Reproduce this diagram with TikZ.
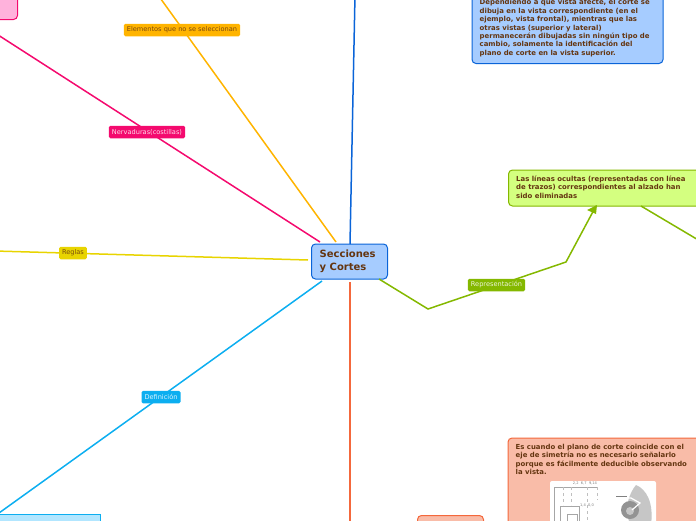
\documentclass[tikz,border=0pt]{standalone}
\usepackage{fontspec}
\setmainfont{DejaVu Sans}
\definecolor{txt}{HTML}{643510}
\definecolor{cgreen}{HTML}{84B800}
\definecolor{cblue}{HTML}{0A64D8}
\definecolor{cred}{HTML}{F4683C}
\definecolor{ccyan}{HTML}{0CAEF0}
\definecolor{cyel}{HTML}{E8D400}
\definecolor{cpink}{HTML}{F40A6E}
\definecolor{corg}{HTML}{FFB400}
\definecolor{fblue}{HTML}{A6CCFF}
\definecolor{fgreen}{HTML}{D4FF80}
\definecolor{fred}{HTML}{F9BCA8}
\definecolor{fcyan}{HTML}{B2E6FF}
\definecolor{fpink}{HTML}{FFB2DC}
\tikzset{
 x=1pt,y=-1pt,
 line/.style={line width=1.5pt},
 tag/.style={font=\fontsize{6.6}{8}\selectfont,rounded corners=1.5pt,inner xsep=3pt,inner ysep=0pt,minimum height=12.5pt,anchor=center},
 topic/.style={rounded corners=4pt,line width=1pt,anchor=north west},
 body/.style={anchor=north west,align=left,inner sep=0pt,font=\fontsize{6.92}{8.45}\selectfont\bfseries,text=txt},
}
\begin{document}
\begin{tikzpicture}
\useasboundingbox (0,0) rectangle (696,520);
\clip (0,0) rectangle (696,520);
\coordinate (offT) at (355,-5);
\coordinate (offO) at (158,-5);
\coordinate (offP) at (-5,33);
\coordinate (offY) at (-5,251);
\coordinate (offR) at (350,525);
\coordinate (bendA) at (428,309);
\coordinate (bendB) at (566,262);
\coordinate (offG) at (700,241);
\coordinate (arrowEnd) at (596,206);

\node[draw=cblue,fill=fblue,topic,minimum width=76pt,minimum height=35pt] (main) at (311,243.5) {};
\node[anchor=west,align=left,inner sep=0pt,font=\fontsize{10}{13}\selectfont\bfseries,text=txt] (mainlbl) at (319.5,261.5) {Secciones\\y Cortes};

\node[draw=cgreen,fill=fgreen,topic,minimum width=195pt,minimum height=36pt] (lin) at (508,169.5) {};
\node[body] (linl) at (516,175.5) {Las líneas ocultas (representadas con línea\\de trazos) correspondientes al alzado han\\sido eliminadas};

\node[draw=cblue,fill=fblue,topic,minimum width=191pt,minimum height=70pt] (dep) at (471.5,-7) {};
\node[body] (depl) at (479.5,-1) {Dependiendo a qué vista afecte, el corte se\\dibuja en la vista correspondiente (en el\\ejemplo, vista frontal), mientras que las\\otras vistas (superior y lateral)\\permanecerán dibujadas sin ningún tipo de\\cambio, solamente la identificación del\\plano de corte en la vista superior.};

\node[draw=cred,fill=fred,topic,minimum width=200pt,minimum height=95pt] (eje) at (507.5,437.5) {};
\node[body] (ejel) at (515.5,444) {Es cuando el plano de corte coincide con el\\eje de simetría no es necesario señalarlo\\porque es fácilmente deducible observando\\la vista.};

\node[draw=cred,fill=fred,topic,minimum width=66pt,minimum height=20pt] (red2) at (417,515) {};
\node[draw=ccyan,fill=fcyan,rectangle,line width=1pt,anchor=north west,minimum width=108pt,minimum height=20pt] (cyb) at (-8,514) {};
\node[draw=cpink,fill=fpink,topic,minimum width=30pt,minimum height=30pt] (pinkb) at (-13,-11) {};

% embedded picture
\fill[white,rounded corners=2pt] (550,481) rectangle (656,525);
\draw[gray!70,line width=.5pt] (554,487) -- (597,487) (554,487) -- (554,525) (560,506) -- (579,506) -- (579,525) (560,506) -- (560,525) (567,514) -- (577,514) -- (577,525) (567,514) -- (567,525);
\draw[gray!50,dashed,line width=.4pt] (563,487) -- (563,505) (571,487) -- (571,505) (587,487) -- (587,525) (597,487) -- (597,500);
\node[inner sep=0pt,font=\fontsize{3.6}{4}\selectfont,text=gray] (dim1) at (585,483.5) {2,2\ \ 6,7\ \ 9,14};
\node[inner sep=0pt,font=\fontsize{3.6}{4}\selectfont,text=gray] (dim2) at (587,505) {1,4\ \ 0,0};
\fill[gray!45] (631,525) .. controls (622,510) and (630,492) .. (636,485) .. controls (646,489) and (654,502) .. (651,525) -- cycle;
\fill[gray!85] (630,510) circle[radius=9];
\fill[gray!45] (630,511) circle[radius=4];
\draw[white,line width=1.2pt] (617,497) -- (631,498) -- (640,503) -- (632,510);
\draw[gray,line width=.4pt] (616,496) -- (627,496);

\draw[cblue,line] (350,244) -- (offT);
\draw[corg,line] (336,242) -- (offO);
\draw[cpink,line] (320,242) -- (offP);
\draw[cyel,line] (308,260) -- (offY);
\draw[ccyan,line] (322,281) -- (-1,513);
\draw[cred,line] (350,282) -- (offR);
\draw[cgreen,line] (379,279) -- (bendA) -- (bendB) -- (arrowEnd);
\draw[cgreen,line] (641,206) -- (offG);
\fill[cgreen] (597,205) -- (587,210) -- (596,214) -- cycle;

\node[tag,fill=cgreen,text=white!85!cgreen] (t1) at (496.5,285) {Representación};
\node[tag,fill=corg,text=txt!85!corg] (t2) at (182,30) {Elementos que no se seleccionan};
\node[tag,fill=cpink,text=white!85!cpink] (t3) at (147,132) {Nervaduras(costillas)};
\node[tag,fill=cyel,text=txt!85!cyel] (t4) at (73,253) {Reglas};
\node[tag,fill=ccyan,text=white!85!ccyan] (t5) at (161,397) {Definición};
\end{tikzpicture}
\end{document}
